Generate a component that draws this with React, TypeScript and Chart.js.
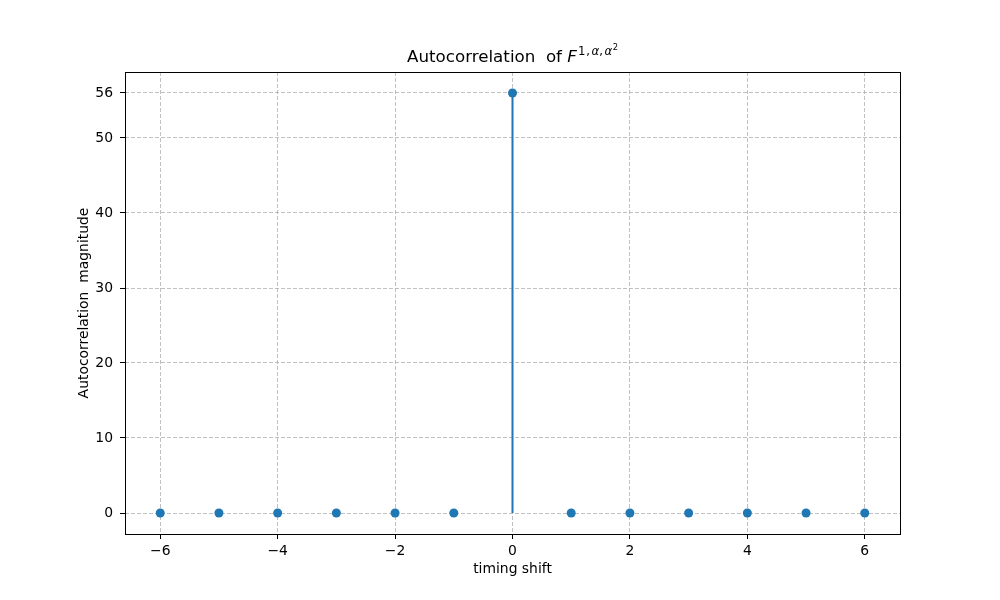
import React, { useEffect, useRef } from "react";
import { Chart, registerables } from "chart.js";

Chart.register(...registerables);

const shifts = [-6, -5, -4, -3, -2, -1, 0, 1, 2, 3, 4, 5, 6];
const autocorr = [0, 0, 0, 0, 0, 0, 56, 0, 0, 0, 0, 0, 0];
const xTicks = [-6, -4, -2, 0, 2, 4, 6];
const yTicks = [0, 10, 20, 30, 40, 50, 56];
const xLabel = "timing shift";
const yLabel = "Autocorrelation  magnitude";
const titlePrefix = "Autocorrelation  of ";

const BLUE = "#1f77b4";
const FONT = "'DejaVu Sans', sans-serif";

const fmt = (v: number) => (v < 0 ? "\u2212" + Math.abs(v) : String(v));

const stemPlugin = {
  id: "stems",
  beforeDatasetsDraw(chart: any) {
    const { ctx, scales, chartArea } = chart;
    const xs = scales.x;
    const ys = scales.y;
    ctx.save();
    ctx.beginPath();
    ctx.rect(chartArea.left, chartArea.top, chartArea.right - chartArea.left, chartArea.bottom - chartArea.top);
    ctx.clip();
    ctx.strokeStyle = BLUE;
    ctx.lineWidth = 2;
    shifts.forEach((s, i) => {
      const v = autocorr[i];
      if (v === 0) return;
      const x = xs.getPixelForValue(s);
      ctx.beginPath();
      ctx.moveTo(x, ys.getPixelForValue(0));
      ctx.lineTo(x, ys.getPixelForValue(v));
      ctx.stroke();
    });
    ctx.restore();
  },
};

const framePlugin = {
  id: "frame",
  afterDraw(chart: any) {
    const { ctx, chartArea } = chart;
    ctx.save();
    ctx.strokeStyle = "#000";
    ctx.lineWidth = 1;
    const l = Math.round(chartArea.left) + 0.5;
    const r = Math.round(chartArea.right) + 0.5;
    const t = Math.round(chartArea.top) + 0.5;
    const b = Math.round(chartArea.bottom) + 0.5;
    ctx.strokeRect(l, t, r - l, b - t);
    ctx.restore();
  },
};

const titlePlugin = {
  id: "mathTitle",
  afterDraw(chart: any) {
    const { ctx, chartArea } = chart;
    const size = 16.7;
    const sup = size * 0.7;
    const sup2 = size * 0.5;
    const fMain = `${size}px ${FONT}`;
    const fItal = `italic ${size}px ${FONT}`;
    const fSup = `${sup}px ${FONT}`;
    const fSupI = `italic ${sup}px ${FONT}`;
    const fSup2 = `${sup2}px ${FONT}`;
    const parts: { t: string; f: string; dy: number; dx?: number }[] = [
      { t: titlePrefix, f: fMain, dy: 0 },
      { t: "F", f: fItal, dy: 0, dx: 1 },
      { t: "1", f: fSup, dy: -7.5, dx: 1 },
      { t: ",", f: fSup, dy: -7.5, dx: 1.5 },
      { t: "\u03b1", f: fSupI, dy: -7.5, dx: 0 },
      { t: ",", f: fSup, dy: -7.5, dx: 1.5 },
      { t: "\u03b1", f: fSupI, dy: -7.5, dx: 0.5 },
      { t: "2", f: fSup2, dy: -12.5, dx: 0 },
    ];
    ctx.save();
    ctx.fillStyle = "#000";
    ctx.textBaseline = "alphabetic";
    ctx.textAlign = "left";
    let total = 0;
    const widths = parts.map((p) => {
      ctx.font = p.f;
      const w = ctx.measureText(p.t).width + (p.dx || 0);
      total += w;
      return w;
    });
    const cx = (chartArea.left + chartArea.right) / 2;
    let x = cx - total / 2;
    const baseY = 62;
    parts.forEach((p, i) => {
      ctx.font = p.f;
      ctx.fillText(p.t, x, baseY + p.dy);
      x += widths[i];
    });
    ctx.restore();
  },
};

export default function App() {
  const ref = useRef<HTMLCanvasElement | null>(null);
  useEffect(() => {
    document.body.style.margin = "0";
    const canvas = ref.current;
    if (!canvas) return;
    const gridCommon = {
      color: "#b0b0b0",
      lineWidth: 0.8,
      tickColor: "#000",
      tickLength: 5,
      tickBorderDash: [1, 0],
      tickWidth: 1,
      drawTicks: true,
    };
    const borderCommon = { display: false, dash: [4, 2] };
    const chart = new Chart(canvas, {
      type: "scatter",
      data: {
        datasets: [
          {
            data: shifts.map((s, i) => ({ x: s, y: autocorr[i] })),
            backgroundColor: BLUE,
            borderColor: BLUE,
            pointRadius: 4.5,
            pointHoverRadius: 4.5,
            pointBorderWidth: 0,
          },
        ],
      },
      plugins: [stemPlugin, framePlugin, titlePlugin],
      options: {
        animation: false,
        responsive: false,
        events: [],
        layout: { padding: { left: 76, right: 100, top: 72, bottom: 0 } },
        plugins: { legend: { display: false }, tooltip: { enabled: false }, title: { display: false } },
        scales: {
          x: {
            type: "linear",
            min: -6.6,
            max: 6.6,
            afterBuildTicks: (s: any) => {
              s.ticks = xTicks.map((v) => ({ value: v }));
            },
            afterFit: (s: any) => {
              s.height = 66;
            },
            grid: gridCommon,
            border: borderCommon,
            ticks: {
              color: "#000",
              padding: 4,
              font: { family: FONT, size: 13.9 },
              maxRotation: 0,
              callback: (v: any) => fmt(Number(v)),
            },
            title: {
              display: true,
              text: xLabel,
              color: "#000",
              font: { family: FONT, size: 13.9 },
              padding: { top: 0, bottom: 22.6 },
            },
          },
          y: {
            type: "linear",
            min: -2.8,
            max: 58.8,
            afterBuildTicks: (s: any) => {
              s.ticks = yTicks.map((v) => ({ value: v }));
            },
            afterFit: (s: any) => {
              s.width = 49;
            },
            grid: gridCommon,
            border: borderCommon,
            ticks: {
              color: "#000",
              padding: 7,
              font: { family: FONT, size: 13.9 },
              callback: (v: any) => fmt(Number(v)),
            },
            title: {
              display: true,
              text: yLabel,
              color: "#000",
              font: { family: FONT, size: 13.9 },
              padding: { top: 0, bottom: 0 },
            },
          },
        },
      },
    } as any);
    return () => chart.destroy();
  }, []);
  return (
    <div style={{ width: 1000, height: 600, background: "#fff" }}>
      <canvas ref={ref} width={1000} height={600} style={{ display: "block" }} />
    </div>
  );
}
